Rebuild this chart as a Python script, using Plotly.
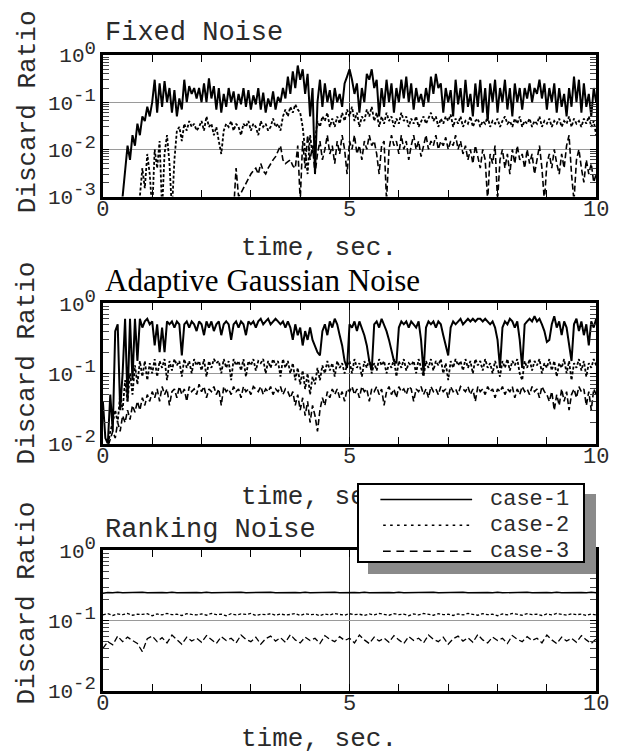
import numpy as np
import plotly.graph_objects as go

# ---------------- data ----------------
# Fixed Noise (time step 0.05 s, 0..10 s); values below 1e-3 run off the chart
p1_case1 = [
0.0005,0.0005,0.0005,0.0005,0.0005,0.0005,0.0005,0.0005,
0.001,0.004,0.012,0.006,0.02,0.012,0.035,0.02,0.05,0.04,
0.08,0.05,0.1,0.3,0.06,0.25,0.08,0.28,0.1,0.2,
0.06,0.18,0.05,0.12,0.07,0.3,0.1,0.22,0.15,0.2,
0.12,0.2,0.1,0.25,0.1,0.32,0.12,0.22,0.07,0.2,
0.06,0.15,0.08,0.2,0.1,0.17,0.07,0.15,0.09,0.2,
0.08,0.18,0.07,0.14,0.09,0.2,0.07,0.16,0.06,0.12,
0.08,0.17,0.07,0.13,0.1,0.2,0.12,0.35,0.15,0.45,
0.2,0.6,0.3,0.5,0.15,0.4,0.05,0.2,0.003,0.1,
0.3,0.08,0.25,0.1,0.18,0.07,0.2,0.1,0.15,0.08,
0.25,0.35,0.5,0.3,0.15,0.25,0.06,0.2,0.1,0.4,
0.3,0.5,0.2,0.3,0.05,0.2,0.08,0.3,0.1,0.25,
0.06,0.2,0.1,0.3,0.12,0.35,0.1,0.25,0.07,0.2,
0.1,0.15,0.08,0.2,0.1,0.35,0.15,0.4,0.2,0.25,
0.06,0.2,0.1,0.18,0.05,0.3,0.09,0.2,0.06,0.3,
0.08,0.15,0.05,0.25,0.08,0.3,0.06,0.2,0.04,0.25,
0.1,0.3,0.06,0.2,0.1,0.3,0.07,0.2,0.05,0.25,
0.1,0.2,0.07,0.2,0.12,0.25,0.1,0.2,0.15,0.3,
0.12,0.25,0.07,0.2,0.1,0.25,0.06,0.2,0.08,0.15,
0.05,0.2,0.08,0.35,0.1,0.3,0.06,0.25,0.08,0.15,
0.05,0.2,0.1]
p1_case2 = [
0.0005,0.0005,0.0005,0.0005,0.0005,0.0005,0.0005,0.0005,0.0005,0.0005,
0.0005,0.0005,0.0005,0.0005,0.0005,
0.001,0.004,0.0015,0.008,0.003,0.0005,0.01,0.004,0.015,0.0005,
0.008,0.02,0.005,0.0005,0.006,0.025,0.03,0.015,0.035,0.025,
0.04,0.03,0.035,0.025,0.03,0.04,0.025,0.05,0.03,0.035,
0.02,0.03,0.015,0.008,0.025,0.035,0.03,0.04,0.025,0.035,
0.03,0.02,0.035,0.03,0.04,0.025,0.035,0.03,0.02,0.04,
0.03,0.035,0.025,0.03,0.045,0.03,0.035,0.025,0.05,0.07,
0.05,0.08,0.06,0.09,0.07,0.06,0.03,0.01,0.003,0.02,
0.008,0.015,0.04,0.03,0.05,0.04,0.06,0.03,0.045,0.03,
0.05,0.035,0.06,0.04,0.07,0.05,0.08,0.04,0.06,0.03,
0.05,0.04,0.07,0.05,0.08,0.04,0.06,0.03,0.05,0.035,
0.06,0.04,0.05,0.03,0.045,0.035,0.06,0.04,0.05,0.03,
0.045,0.035,0.05,0.03,0.04,0.05,0.035,0.045,0.06,0.04,
0.05,0.03,0.045,0.035,0.05,0.04,0.055,0.03,0.045,0.035,
0.05,0.03,0.04,0.035,0.05,0.03,0.04,0.045,0.03,0.04,
0.035,0.05,0.03,0.04,0.035,0.045,0.03,0.04,0.05,0.035,
0.04,0.03,0.045,0.035,0.05,0.03,0.04,0.035,0.045,0.03,
0.04,0.035,0.05,0.03,0.04,0.035,0.045,0.03,0.04,0.035,
0.045,0.03,0.04,0.035,0.05,0.03,0.045,0.035,0.04,0.03,
0.045,0.035,0.05,0.03,0.04,0.02]
p1_case3 = [0.0005] * 54 + [
0.004,0.001,0.0012,0.0015,0.002,0.0025,0.003,0.0035,0.004,0.003,
0.005,0.0035,0.003,0.004,0.005,0.006,0.007,0.009,0.012,0.006,
0.005,0.0055,0.006,0.0045,0.004,0.012,0.0008,0.015,0.004,0.02,
0.006,0.012,0.003,0.008,0.015,0.006,0.01,0.02,0.008,0.012,
0.005,0.015,0.008,0.02,0.01,0.003,0.015,0.01,0.02,0.008,
0.012,0.006,0.015,0.01,0.02,0.012,0.015,0.008,0.003,0.012,
0.015,0.0008,0.01,0.02,0.012,0.015,0.008,0.02,0.01,0.015,
0.006,0.012,0.02,0.01,0.015,0.007,0.012,0.02,0.01,0.015,
0.012,0.02,0.01,0.015,0.012,0.018,0.01,0.015,0.012,0.02,
0.01,0.015,0.008,0.012,0.006,0.01,0.005,0.012,0.007,0.004,
0.01,0.006,0.0008,0.008,0.005,0.012,0.0008,0.006,0.01,0.004,
0.008,0.003,0.01,0.005,0.012,0.006,0.008,0.004,0.01,0.005,
0.008,0.003,0.006,0.012,0.004,0.0008,0.005,0.008,0.004,0.01,
0.005,0.003,0.008,0.004,0.012,0.02,0.003,0.0008,0.006,0.01,
0.004,0.002,0.006,0.003,0.005,0.002,0.003]

# Adaptive Gaussian Noise (time step 0.05 s)
p2_case1 = [
0.04,0.012,0.01,0.05,0.015,0.4,0.5,0.03,0.1,0.6,
0.04,0.6,0.08,0.6,0.15,0.6,0.45,0.55,0.6,0.5,
0.55,0.25,0.5,0.2,0.45,0.2,0.55,0.5,0.55,0.45,
0.55,0.5,0.18,0.5,0.55,0.45,0.55,0.5,0.4,0.55,
0.5,0.35,0.55,0.45,0.55,0.4,0.5,0.55,0.35,0.5,
0.55,0.5,0.3,0.5,0.55,0.45,0.55,0.5,0.35,0.55,
0.5,0.55,0.45,0.55,0.6,0.5,0.55,0.6,0.5,0.55,
0.6,0.55,0.5,0.55,0.45,0.55,
0.45,0.3,0.5,0.35,0.45,0.25,0.4,0.3,0.45,0.3,
0.25,0.2,0.18,0.4,0.5,0.35,0.55,0.45,0.6,0.5,
0.35,0.25,0.15,0.12,0.5,0.45,0.55,0.4,0.55,0.45,
0.35,0.25,0.15,0.11,0.5,0.55,0.45,0.6,0.5,0.4,
0.3,0.2,0.15,0.14,0.45,0.55,0.5,0.55,0.45,0.55,
0.5,0.45,0.55,0.3,0.1,0.45,0.55,0.5,0.55,0.45,
0.55,0.5,0.35,0.25,0.18,0.45,0.55,0.5,0.55,0.6,
0.5,0.55,0.6,0.55,0.6,0.55,0.6,0.6,0.55,0.6,
0.55,0.5,0.55,0.45,0.3,0.12,0.45,0.55,0.5,0.6,
0.55,0.45,0.55,0.3,0.12,0.5,0.55,0.6,0.55,0.65,
0.55,0.6,0.5,0.4,0.28,0.3,0.5,0.65,0.45,0.55,
0.35,0.55,0.45,0.25,0.15,0.5,0.6,0.4,0.55,0.35,
0.5,0.25,0.55,0.45,0.6]
p2_case2 = [
0.008,0.008,0.009,0.015,0.02,0.03,0.02,0.05,0.03,0.08,
0.04,0.1,0.05,0.13,0.07,0.15,0.09,0.15,0.08,0.14,
0.1,0.16,0.09,0.15,0.12,0.16,0.08,0.15,0.11,0.16,
0.13,0.15,0.09,0.16,0.12,0.15,0.1,0.16,0.13,0.15,
0.11,0.16,0.09,0.15,0.12,0.16,0.14,0.15,0.1,0.16,
0.12,0.15,0.08,0.16,0.13,0.15,0.11,0.16,0.09,0.15,
0.13,0.16,0.11,0.15,0.14,0.16,0.1,0.15,0.12,0.16,
0.13,0.15,0.09,0.16,0.12,0.15,0.1,0.14,0.08,0.12,
0.07,0.11,0.06,0.1,0.05,0.09,0.07,0.12,0.08,0.13,
0.1,0.15,0.11,0.14,0.09,0.15,0.12,0.14,0.1,0.13,
0.15,0.1,0.16,0.12,0.14,0.09,0.15,0.12,0.16,0.1,
0.14,0.11,0.16,0.13,0.15,0.1,0.14,0.12,0.16,0.09,
0.15,0.12,0.16,0.11,0.14,0.13,0.15,0.1,0.16,0.12,
0.09,0.15,0.12,0.16,0.11,0.15,0.13,0.16,0.1,0.14,
0.08,0.15,0.12,0.16,0.13,0.15,0.11,0.16,0.12,0.15,
0.1,0.16,0.13,0.15,0.11,0.16,0.12,0.14,0.1,0.15,
0.12,0.09,0.15,0.12,0.16,0.11,0.15,0.13,0.16,0.1,
0.08,0.15,0.12,0.16,0.11,0.15,0.13,0.16,0.1,0.14,
0.12,0.16,0.11,0.15,0.09,0.14,0.12,0.16,0.1,0.15,
0.08,0.14,0.12,0.16,0.11,0.15,0.09,0.14,0.12,0.16,
0.13]
p2_case3 = [
0.008,0.008,0.009,0.012,0.015,0.012,0.02,0.015,0.025,0.02,
0.03,0.022,0.035,0.028,0.04,0.03,0.045,0.035,0.05,0.04,
0.055,0.045,0.06,0.04,0.065,0.05,0.06,0.035,0.055,0.06,
0.045,0.065,0.05,0.06,0.04,0.065,0.055,0.06,0.05,0.07,
0.055,0.065,0.045,0.06,0.055,0.065,0.05,0.06,0.035,0.065,
0.055,0.06,0.05,0.065,0.055,0.06,0.045,0.065,0.055,0.06,
0.05,0.065,0.06,0.055,0.065,0.05,0.06,0.055,0.065,0.05,
0.06,0.055,0.065,0.05,0.06,0.055,0.045,0.055,0.035,0.05,
0.03,0.045,0.025,0.04,0.02,0.035,0.025,0.015,0.03,0.045,
0.035,0.055,0.045,0.06,0.05,0.06,0.045,0.055,0.04,0.06,
0.055,0.065,0.05,0.06,0.045,0.065,0.055,0.06,0.04,0.06,
0.055,0.065,0.05,0.06,0.035,0.055,0.065,0.05,0.06,0.045,
0.065,0.055,0.06,0.05,0.065,0.06,0.04,0.06,0.055,0.065,
0.05,0.06,0.045,0.065,0.055,0.06,0.05,0.065,0.055,0.06,
0.045,0.065,0.055,0.06,0.05,0.065,0.06,0.055,0.065,0.05,
0.06,0.04,0.065,0.055,0.06,0.05,0.065,0.055,0.06,0.045,
0.06,0.055,0.065,0.05,0.06,0.055,0.065,0.045,0.06,0.05,
0.065,0.055,0.06,0.05,0.065,0.055,0.06,0.045,0.065,0.055,
0.05,0.04,0.055,0.03,0.05,0.035,0.06,0.04,0.055,0.03,
0.05,0.06,0.045,0.065,0.055,0.06,0.035,0.055,0.03,0.06,
0.05]

# Ranking Noise (time step 0.1 s)
p3_case1 = [
0.245,0.25,0.248,0.252,0.249,0.251,0.247,0.25,0.253,0.248,
0.25,0.246,0.251,0.249,0.252,0.248,0.25,0.247,0.251,0.25,
0.248,0.252,0.249,0.25,0.246,0.251,0.25,0.248,0.253,0.249,
0.25,0.247,0.251,0.249,0.252,0.248,0.25,0.246,0.251,0.25,
0.249,0.252,0.248,0.25,0.247,0.251,0.25,0.253,0.248,0.25,
0.246,0.251,0.249,0.252,0.248,0.25,0.247,0.251,0.25,0.248,
0.252,0.249,0.25,0.246,0.251,0.25,0.248,0.253,0.249,0.25,
0.247,0.251,0.249,0.252,0.248,0.25,0.246,0.251,0.25,0.249,
0.252,0.248,0.25,0.247,0.251,0.25,0.253,0.248,0.25,0.246,
0.251,0.249,0.252,0.248,0.25,0.247,0.251,0.25,0.248,0.252,
0.249]
p3_case2 = [
0.12,0.125,0.118,0.124,0.121,0.126,0.119,0.123,0.122,0.125,
0.117,0.124,0.12,0.126,0.121,0.123,0.118,0.125,0.122,0.12,
0.124,0.119,0.126,0.121,0.123,0.117,0.125,0.12,0.124,0.122,
0.126,0.118,0.123,0.121,0.125,0.119,0.124,0.12,0.122,0.126,
0.118,0.125,0.121,0.123,0.117,0.124,0.12,0.126,0.122,0.119,
0.125,0.121,0.123,0.118,0.124,0.12,0.126,0.122,0.119,0.125,
0.121,0.123,0.117,0.124,0.12,0.126,0.122,0.119,0.125,0.121,
0.123,0.118,0.124,0.12,0.126,0.122,0.119,0.125,0.121,0.123,
0.117,0.124,0.12,0.126,0.122,0.119,0.125,0.121,0.123,0.118,
0.124,0.12,0.126,0.122,0.119,0.125,0.121,0.123,0.118,0.124,
0.12]
p3_case3 = [
0.04,0.05,0.045,0.06,0.05,0.058,0.052,0.047,0.036,0.055,
0.06,0.05,0.057,0.048,0.062,0.053,0.046,0.058,0.051,0.056,
0.049,0.061,0.053,0.047,0.059,0.052,0.056,0.048,0.062,0.054,
0.05,0.058,0.046,0.055,0.06,0.051,0.057,0.049,0.063,0.053,
0.048,0.058,0.052,0.056,0.047,0.061,0.054,0.05,0.059,0.052,
0.056,0.048,0.062,0.053,0.047,0.058,0.051,0.056,0.049,0.061,
0.053,0.047,0.059,0.052,0.056,0.048,0.062,0.054,0.05,0.058,
0.046,0.055,0.06,0.051,0.057,0.049,0.063,0.053,0.048,0.058,
0.052,0.056,0.047,0.061,0.054,0.05,0.059,0.052,0.056,0.048,
0.062,0.053,0.047,0.058,0.051,0.056,0.049,0.061,0.053,0.047,
0.055]

case_names = ["case-1", "case-2", "case-3"]
panel_titles = ["Fixed Noise", "Adaptive Gaussian Noise", "Ranking Noise"]
x_title = "time, sec."
y_title = "Discard Ratio"
x_tickvals = [0, 5, 10]
x_ticktext = ["0", "5", "10"]
SUP = "<sup><span style='font-size:19px'>%s</span></sup>"
y_tickvals = [[1, 0.1, 0.01, 0.001], [1, 0.1, 0.01], [1, 0.1, 0.01]]
y_ticktext = [["10" + SUP % "0", "10" + SUP % "-1", "10" + SUP % "-2", "10" + SUP % "-3"],
              ["10" + SUP % "0", "10" + SUP % "-1", "10" + SUP % "-2"],
              ["10" + SUP % "0", "10" + SUP % "-1", "10" + SUP % "-2"]]

series = [[p1_case1, p1_case2, p1_case3],
          [p2_case1, p2_case2, p2_case3],
          [p3_case1, p3_case2, p3_case3]]

# ---------------- layout helpers ----------------
# target positions are given in picture pixels; the photographed page is
# slightly reduced and offset, so map picture pixels back to figure pixels.
SX, SY = 0.976, 0.9655
OXP, OYP = 4.4, 12.8
W, H = 640, 790
def gx(p): return (p - OXP) / SX
def gy(p): return (p - OYP) / SY
def fx(p): return gx(p) / W
def fy(p): return 1 - gy(p) / H

MONO = "Liberation Mono"
SERIF = "Liberation Serif"
TXT = "#2a2a2a"

plot_left, plot_right = 101, 598
panel_px = [(51, 193), (300, 441), (548, 689)]
y_ranges = [[-3, 0], [-2, 0], [-2, 0]]
dashes = ["solid", "3px,2px", "6px,3px"]
widths = [[2.0, 1.8, 1.6], [2.0, 1.8, 1.6], [1.4, 1.3, 1.3]]

fig = go.Figure()
layout = dict(width=W, height=H, margin=dict(l=0, r=0, t=0, b=0),
              paper_bgcolor="white", plot_bgcolor="white", showlegend=False)

for k in range(3):
    xa = "x" if k == 0 else f"x{k+1}"
    ya = "y" if k == 0 else f"y{k+1}"
    for j, vals in enumerate(series[k]):
        t = np.linspace(0, 10, len(vals))
        fig.add_trace(go.Scatter(x=t, y=vals, mode="lines", name=case_names[j],
                                 xaxis=xa, yaxis=ya,
                                 line=dict(color="black", width=widths[k][j], dash=dashes[j])))
    top, bot = panel_px[k]
    lo, hi = y_ranges[k]
    minor_y = [m * 10 ** d for d in range(lo, hi) for m in range(2, 10)]
    layout["xaxis" if k == 0 else f"xaxis{k+1}"] = dict(
        domain=[fx(plot_left), fx(plot_right)], range=[0, 10], anchor=ya,
        showline=True, linewidth=2.5, linecolor="black", mirror="ticks",
        ticks="inside", ticklen=7, tickwidth=1, tickcolor="black",
        tickmode="array", tickvals=x_tickvals, ticktext=x_ticktext,
        ticklabelstandoff=-10,
        showgrid=True, gridcolor="#222222", gridwidth=1, zeroline=False,
        tickfont=dict(family=MONO, size=22, color=TXT),
        minor=dict(tickmode="array", tickvals=[1, 2, 3, 4, 6, 7, 8, 9],
                   ticks="inside", ticklen=7, tickwidth=1, tickcolor="black", showgrid=False))
    layout["yaxis" if k == 0 else f"yaxis{k+1}"] = dict(
        type="log", range=[lo, hi], domain=[fy(bot), fy(top)], anchor=xa,
        showline=True, linewidth=2.5, linecolor="black", mirror="ticks",
        ticks="inside", ticklen=6, tickwidth=1, tickcolor="black",
        tickmode="array", tickvals=y_tickvals[k], ticktext=y_ticktext[k],
        showgrid=True, gridcolor="#9a9a9a", gridwidth=1, zeroline=False,
        tickfont=dict(family=MONO, size=21, color=TXT),
        minor=dict(tickmode="array", tickvals=minor_y,
                   ticks="inside", ticklen=6, tickwidth=1, tickcolor="#444", showgrid=False))

annotations = []
title_y = [29, 277, 528]
title_font = [dict(family=MONO, size=27, color=TXT),
              dict(family=SERIF, size=31, color="black"),
              dict(family=MONO, size=27, color=TXT)]
xtitle_y = [245, 495, 737]
ytitle_y = [108, 360, 601]
for k in range(3):
    annotations.append(dict(x=fx(plot_left), y=fy(title_y[k]), xref="paper", yref="paper",
                            text=panel_titles[k], showarrow=False, xanchor="left", yanchor="middle",
                            font=title_font[k]))
    annotations.append(dict(x=fx(319), y=fy(xtitle_y[k]), xref="paper", yref="paper",
                            text=x_title, showarrow=False, xanchor="center", yanchor="middle",
                            font=dict(family=MONO, size=26, color=TXT)))
    annotations.append(dict(x=fx(25), y=fy(ytitle_y[k]), xref="paper", yref="paper",
                            text=y_title, showarrow=False, textangle=-90,
                            xanchor="center", yanchor="middle",
                            font=dict(family=MONO, size=26, color=TXT)))

# legend (drawn as annotations so it sits above the middle x title)
bx0, by0, bx1, by1 = 360, 482, 583, 559
sh = 11
annotations.append(dict(x=fx((bx0 + bx1) / 2 + sh), y=fy((by0 + by1) / 2 + sh), xref="paper", yref="paper",
                        text=" ", showarrow=False, width=(bx1 - bx0) / SX, height=(by1 - by0) / SY,
                        bgcolor="#8a8a8a", borderwidth=0, borderpad=0,
                        xanchor="center", yanchor="middle"))
annotations.append(dict(x=fx((bx0 + bx1) / 2), y=fy((by0 + by1) / 2), xref="paper", yref="paper",
                        text=" ", showarrow=False, width=(bx1 - bx0) / SX - 4, height=(by1 - by0) / SY - 4,
                        bgcolor="white", bordercolor="black", borderwidth=2, borderpad=0,
                        xanchor="center", yanchor="middle"))
row_y = [497, 523, 549]
sx0, sx1 = 382, 473
seg_specs = [(sx1 - sx0, sx1 - sx0), (4, 7), (9, 13.5)]
for j in range(3):
    seg, period = seg_specs[j]
    s = sx0
    while s + seg <= sx1 + 0.5:
        annotations.append(dict(x=fx(s + seg), y=fy(row_y[j]), xref="paper", yref="paper",
                                ax=-seg / SX, ay=0, text="", showarrow=True, arrowhead=0,
                                arrowwidth=1.5, arrowcolor="black", standoff=0, startstandoff=0))
        s += period
    annotations.append(dict(x=fx(573), y=fy(row_y[j]), xref="paper", yref="paper",
                            text=case_names[j], showarrow=False, xanchor="right", yanchor="middle",
                            font=dict(family=MONO, size=22, color=TXT)))

layout["annotations"] = annotations
fig.update_layout(**layout)
fig.write_html("out.html")
